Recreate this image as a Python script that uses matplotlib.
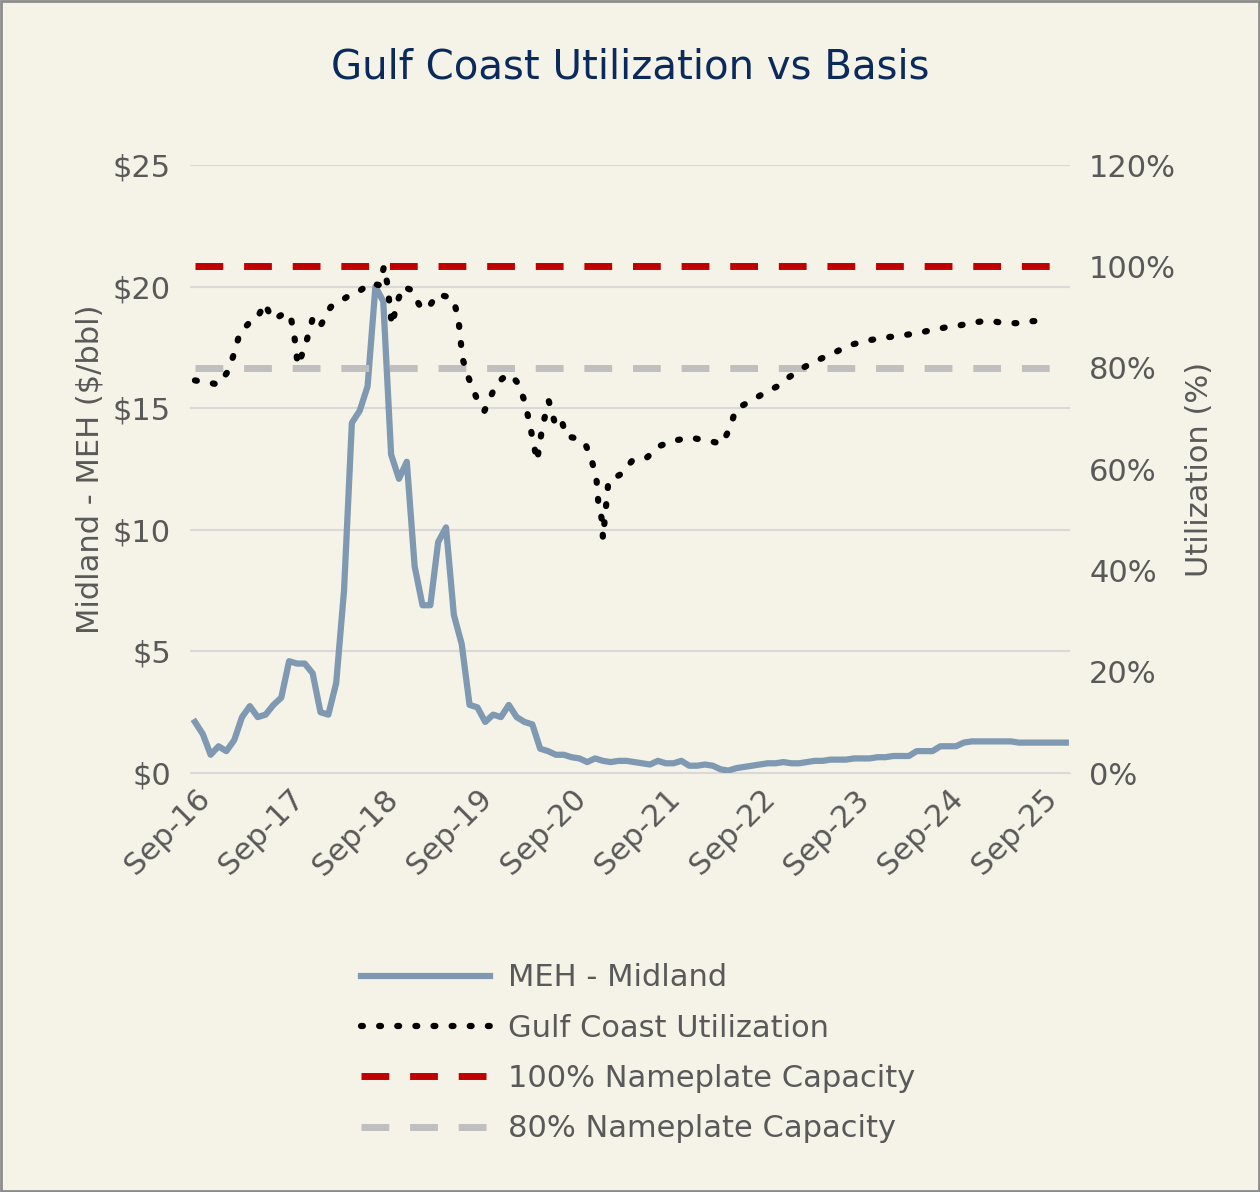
import numpy as np
import matplotlib.pyplot as plt
from matplotlib.lines import Line2D

plt.rcParams['font.family'] = 'DejaVu Sans'

tick_labels = ['Sep-16','Sep-17','Sep-18','Sep-19','Sep-20','Sep-21','Sep-22','Sep-23','Sep-24','Sep-25']
basis = [2.1,1.6,0.75,1.1,0.9,1.35,2.3,2.75,2.3,2.4,
         2.8,3.1,4.6,4.5,4.5,4.1,2.5,2.4,3.7,7.5,
         14.4,14.9,15.9,20.0,19.4,13.1,12.1,12.8,8.5,6.9,
         6.9,9.5,10.1,6.5,5.3,2.8,2.7,2.1,2.4,2.3,
         2.8,2.3,2.1,2.0,1.0,0.9,0.75,0.75,0.65,0.6,
         0.45,0.6,0.5,0.45,0.5,0.5,0.45,0.4,0.35,0.5,
         0.4,0.4,0.5,0.3,0.3,0.35,0.3,0.15,0.1,0.2,0.25,
         0.3,0.35,0.4,0.4,0.45,0.4,0.4,0.45,0.5,0.5,0.55,0.55,0.55,0.6,0.6,0.6,0.65,0.65,0.7,0.7,0.7,
         0.9,0.9,0.9,1.1,1.1,1.1,1.25,1.3,1.3,1.3,1.3,1.3,1.3,1.25,1.25,1.25,1.25,1.25,1.25,1.25]
util_month = [0.0,3.0,4.3,5.1,5.7,7.0,7.9,8.9,9.8,10.3,11.6,12.3,12.7,13.1,14.0,15.0,15.9,17.3,18.7,20.1,
              21.1,22.4,23.5,24.1,24.5,25.1,25.8,26.5,27.5,28.6,29.6,30.9,32.2,33.0,33.6,34.1,34.9,35.9,36.9,38.3,
              39.2,40.2,41.2,42.1,43.1,43.6,44.3,45.1,45.8,46.6,47.3,48.2,49.7,50.6,51.2,51.4,51.9,52.0,52.7,54.3,
              55.7,57.4,59.3,61.0,63.2,65.3,67.2,68.3,68.9,70.8,72.9,74.2,75.5,77.4,79.2,81.3,83.3,85.8,88.2,90.2,
              92.0,93.8,95.8,97.6,99.5,101.3,103.1,104.9,106.8,108.7]
util = [77.5,76.7,79.5,83.4,86.8,89,89.7,92.7,89.7,89.7,91,89.3,85.8,80.5,84,89.7,88,92,93.3,94.7,
        95.3,96.7,96.3,100,96.7,88.4,93,96,95.4,92.4,91.5,94.5,94,93.3,89.3,81.8,77.9,74,71.5,76.4,
        77.9,78.7,76.9,73,65.6,61.6,68.5,73.4,69.5,70.4,66.5,66.2,65.2,61.6,57.6,53.6,49.7,46.3,57.6,59,
        61.6,62,64.6,65.6,66.2,65.6,65,68.5,71.8,73.4,75.3,76.3,77.9,79.9,81.4,82.8,84.4,85.4,86,86.4,
        86.8,87.4,88,88.4,89,89.3,88.8,88.8,89.2,89.3]
cap100, cap80 = 100, 80

bg = '#F5F3E7'
gray = '#595959'
dots = (0, (0.3, 2.6))
fig = plt.figure(figsize=(12.6, 11.92), dpi=100, facecolor=bg)
fig.patches.append(plt.Rectangle((0.001, 0.001), 0.998, 0.998, transform=fig.transFigure,
                                 fill=False, edgecolor='#8c8c8c', lw=2))
ax = fig.add_axes([0.151, 0.3515, 0.698, 0.510], facecolor=bg)
ax2 = ax.twinx()
x = np.arange(len(basis))
ax.set_ylim(0, 25)
ax2.set_ylim(0, 120)
ax.set_xlim(-0.6, 111.5)
ax.set_yticks(range(0, 26, 5))
ax.set_yticklabels([f'${v}' for v in range(0, 26, 5)])
ax2.set_yticks(range(0, 121, 20))
ax2.set_yticklabels([f'{v}%' for v in range(0, 121, 20)])
ax.grid(axis='y', color='#d9d9d9', lw=1.5)
ax.set_axisbelow(True)
for a in (ax, ax2):
    for s in a.spines.values():
        s.set_visible(False)
    a.tick_params(length=0, labelsize=22, labelcolor=gray, pad=14)
ax.spines['bottom'].set_visible(True)
ax.spines['bottom'].set_color('#d9d9d9')
ax.set_xticks(np.arange(0, 109, 12))
ax.set_xticklabels(tick_labels, rotation=45, ha='right', rotation_mode='anchor')
ax.tick_params(axis='x', pad=8)

ax.plot(x, basis, color='#7F99B2', lw=4.5, zorder=3)
ax2.plot(util_month, util, color='black', lw=4.5, ls=dots, dash_capstyle='round', zorder=4)
ax2.plot([x[0], x[-1]], [cap100, cap100], color='#C00000', lw=5, ls=(0, (4, 3)))
ax2.plot([x[0], x[-1]], [cap80, cap80], color='#BFBFBF', lw=5, ls=(0, (4, 3)))

ax.set_ylabel('Midland - MEH ($/bbl)', fontsize=22, color=gray, labelpad=6)
ax2.set_ylabel('Utilization (%)', fontsize=22, color=gray, labelpad=6)
fig.text(0.5, 0.943, 'Gulf Coast Utilization vs Basis', ha='center', va='center',
         fontsize=29, color='#0B2A5C')

handles = [Line2D([], [], color='#7F99B2', lw=4.5),
           Line2D([], [], color='black', lw=4.5, ls=dots, dash_capstyle='round'),
           Line2D([], [], color='#C00000', lw=5, ls=(0, (4, 3))),
           Line2D([], [], color='#BFBFBF', lw=5, ls=(0, (4, 3)))]
labels = ['MEH - Midland', 'Gulf Coast Utilization', '100% Nameplate Capacity', '80% Nameplate Capacity']
fig.legend(handles, labels, loc='upper left', bbox_to_anchor=(0.265, 0.215), frameon=False,
           fontsize=22, labelcolor=gray, handlelength=4.2, labelspacing=0.7, handletextpad=0.6)
fig.savefig('out.png', dpi=100, facecolor=bg)
